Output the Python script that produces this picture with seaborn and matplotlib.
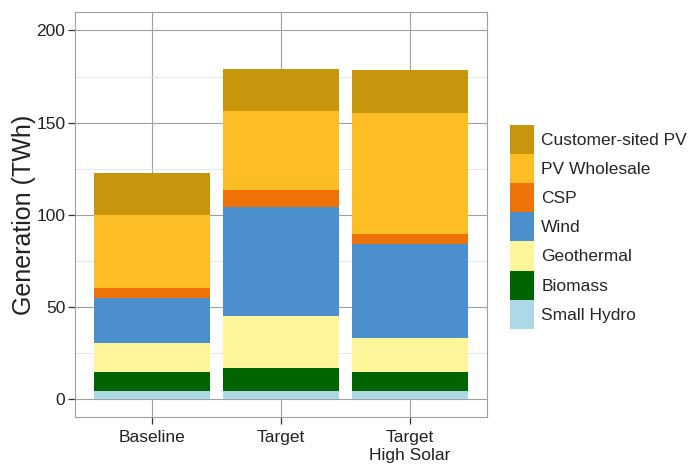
import matplotlib
matplotlib.use("Agg")
import matplotlib.pyplot as plt
import matplotlib.patches as mpatches
import seaborn as sns
import pandas as pd
import numpy as np

scenarios = ["Baseline", "Target", "Target\nHigh Solar"]
sources = ["Small Hydro", "Biomass", "Geothermal", "Wind", "CSP", "PV Wholesale", "Customer-sited PV"]
small_hydro = [4.7, 4.7, 4.7]
biomass = [10.3, 12.3, 10.3]
geothermal = [15.4, 28.3, 18.1]
wind = [24.7, 58.8, 51.1]
csp = [5.1, 9.3, 5.4]
pv_wholesale = [39.9, 43.0, 65.4]
customer_pv = [22.8, 22.8, 23.6]
colors = ["#ADD8E6", "#006400", "#FFF59A", "#4B8FCD", "#EE7205", "#FDBD24", "#C8960C"]

series = [small_hydro, biomass, geothermal, wind, csp, pv_wholesale, customer_pv]

sns.set_style("white")
plt.rcParams["font.family"] = ["Liberation Sans", "DejaVu Sans"]

fig = plt.figure(figsize=(6.91, 4.66), dpi=100)
ax = fig.add_axes([0.1085, 0.1052, 0.5963, 0.8690])

bottom = np.zeros(len(scenarios))
for name, vals, col in zip(sources, series, colors):
    df = pd.DataFrame({"scenario": scenarios, "value": vals})
    sns.barplot(data=df, x="scenario", y="value", color=col, bottom=bottom,
                width=0.9, ax=ax, saturation=1, linewidth=0, zorder=3)
    bottom = bottom + np.array(vals)

ax.set_xlim(-0.6, 2.6)
ax.set_ylim(-9.6, 210)
ax.set_yticks([0, 50, 100, 150, 200])
ax.set_yticks([25, 75, 125, 175], minor=True)
ax.grid(True, which="major", color="#A0A0A0", linewidth=0.8, zorder=0)
ax.grid(True, which="minor", axis="y", color="#E3E3E3", linewidth=0.6, zorder=0)
ax.set_axisbelow(True)
for s in ax.spines.values():
    s.set_color("#A0A0A0")
    s.set_linewidth(0.8)
ax.tick_params(axis="both", which="major", direction="out", length=5, width=0.9,
               color="#333333", labelsize=12.5, labelcolor="#222222", bottom=True, left=True,
               pad=2)
ax.tick_params(axis="x", which="major", pad=4.5)
ax.tick_params(axis="both", which="minor", length=0)
ax.set_xlabel("")
ax.set_ylabel("Generation (TWh)", fontsize=18, color="#222222", labelpad=0)

handles = [mpatches.Patch(facecolor=c, edgecolor="none", label=n)
           for n, c in zip(sources[::-1], colors[::-1])]
fig.legend(handles=handles, loc="center left", bbox_to_anchor=(0.738, 0.513),
           frameon=False, fontsize=12.5, handleheight=2.2, handlelength=1.41,
           labelspacing=0.0, handletextpad=0.4, borderpad=0, borderaxespad=0)

fig.savefig("out.png", dpi=100)
